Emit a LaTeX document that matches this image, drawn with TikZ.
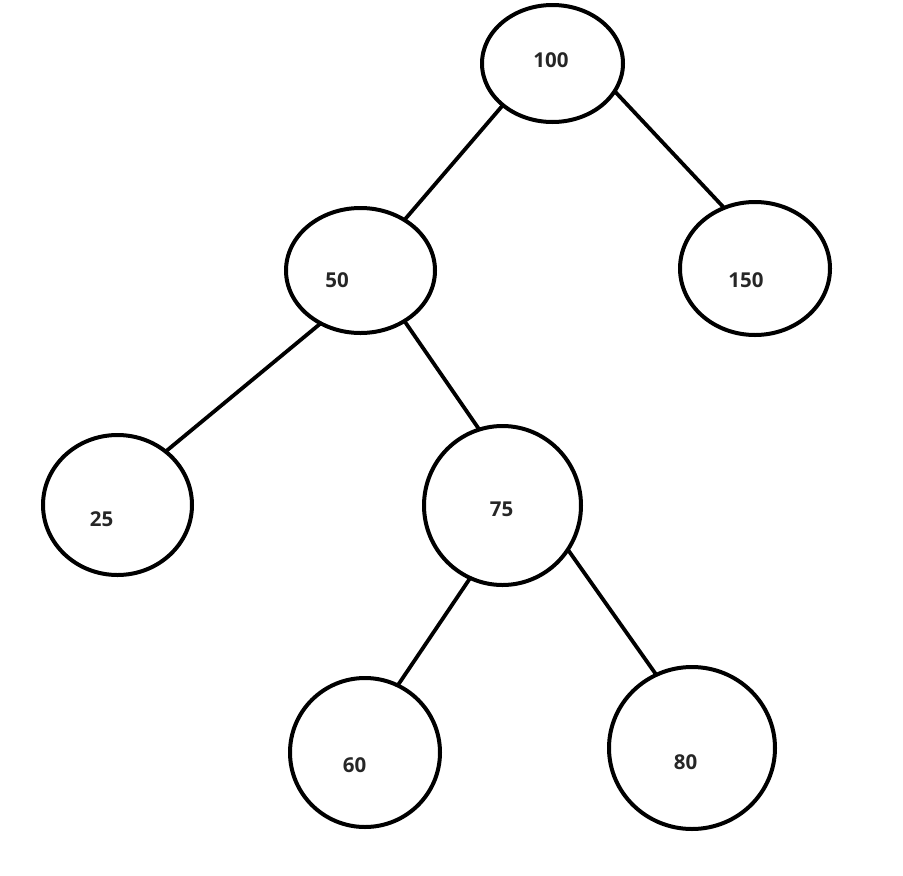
\documentclass[tikz,border=0pt]{standalone}
\usepackage{fontspec}
\setmainfont{Open Sans}
\usetikzlibrary{shapes.geometric}
\tikzset{
  treenode/.style={draw=black, ellipse, line width=4pt, inner sep=0pt, outer sep=0pt},
  numlabel/.style={font=\fontsize{20.5}{24}\selectfont\bfseries, text=black!85, inner sep=0pt},
  edge/.style={draw=black, line width=3.8pt}
}
\begin{document}
\begin{tikzpicture}[x=1pt,y=-1pt]
\useasboundingbox (0,0) rectangle (903,876);
\node[treenode, minimum width=141pt, minimum height=117pt] (n100) at (552.5,63.5) {};
\node[treenode, minimum width=149pt, minimum height=125pt] (n50) at (360.5,270.5) {};
\node[treenode, minimum width=150pt, minimum height=133pt] (n150) at (755,268.5) {};
\node[treenode, minimum width=149pt, minimum height=140pt] (n25) at (117.5,505) {};
\node[treenode, minimum width=157pt, minimum height=159pt] (n75) at (502.5,505.5) {};
\node[treenode, minimum width=150pt, minimum height=149pt] (n60) at (365,752.5) {};
\node[treenode, minimum width=166pt, minimum height=162pt] (n80) at (692,748) {};

\node[numlabel] (t100) at (551,60) {100};
\node[numlabel] (t50) at (337,280) {50};
\node[numlabel] (t150) at (746,280) {150};
\node[numlabel] (t25) at (101.5,519) {25};
\node[numlabel] (t75) at (501.5,509.5) {75};
\node[numlabel] (t60) at (354.5,765.5) {60};
\node[numlabel] (t80) at (685.5,762) {80};

\draw[edge] (n100.220.8) -- (n50.49.7);
\draw[edge] (n100.336.7) -- (n150.117.5);
\draw[edge] (n50.233.7) -- (n25.48);
\draw[edge] (n50.311.4) -- (n75.107.5);
\draw[edge] (n75.246.4) -- (n60.64.6);
\draw[edge] (n75.326.4) -- (n80.116.3);
\end{tikzpicture}
\end{document}
